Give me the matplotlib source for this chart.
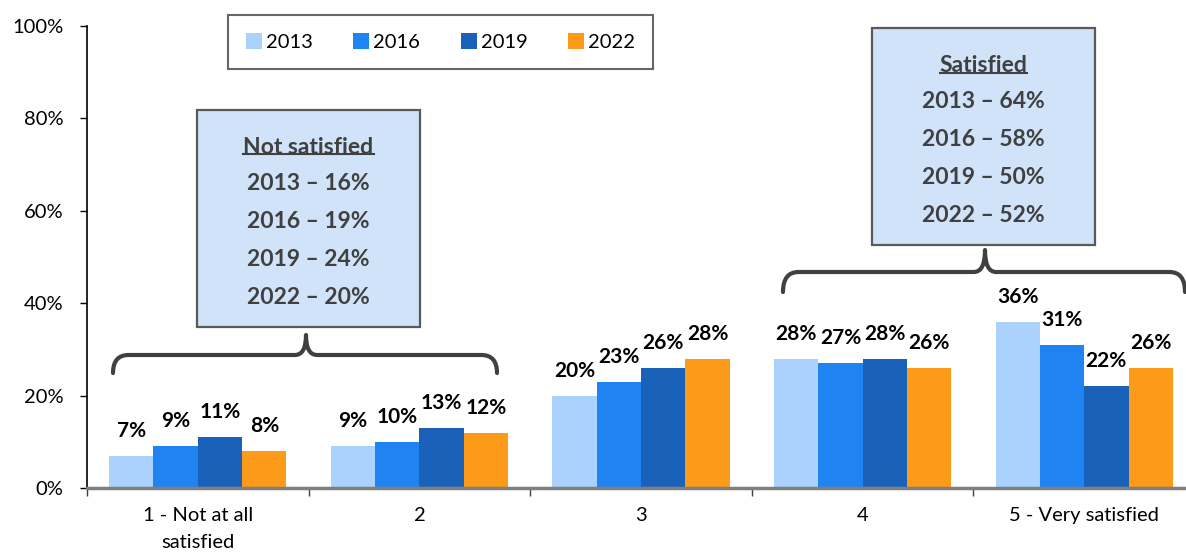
import matplotlib.pyplot as plt
import numpy as np
from matplotlib.patches import Rectangle, PathPatch
from matplotlib.path import Path
from matplotlib.lines import Line2D

plt.rcParams['font.family'] = ['Lato', 'DejaVu Sans']

# data
categories = ['1 - Not at all\nsatisfied', '2', '3', '4', '5 - Very satisfied']
years = ['2013', '2016', '2019', '2022']
v2013 = [7, 9, 20, 28, 36]
v2016 = [9, 10, 23, 27, 31]
v2019 = [11, 13, 26, 28, 22]
v2022 = [8, 12, 28, 26, 26]
not_satisfied = [16, 19, 24, 20]
satisfied = [64, 58, 50, 52]

series = [v2013, v2016, v2019, v2022]
colors = ['#AAD2FC', '#1F83F2', '#1A61B9', '#FE9A19']

fig = plt.figure(figsize=(11.86, 5.56), dpi=100)
ax = fig.add_axes([87 / 1186, 68 / 556, 1108 / 1186, 462 / 556])

x = np.arange(len(categories))
width = 0.2
for i, (vals, col, yr) in enumerate(zip(series, colors, years)):
    pos = x + (i - 1.5) * width
    ax.bar(pos, vals, width, color=col, label=yr)
    for xp, v in zip(pos, vals):
        ax.annotate(f'{v}%', (xp, v), xytext=(0, 18), textcoords='offset points',
                    ha='center', va='center', fontsize=15, fontweight='bold',
                    color='black')

ax.set_xlim(-0.5, 4.5)
ax.set_ylim(0, 100)
ax.set_yticks(range(0, 101, 20))
ax.set_yticklabels([f'{t}%' for t in range(0, 101, 20)], fontsize=14.5)
ax.tick_params(axis='y', length=5, width=1, pad=12, colors='black')

ax.set_xticks(np.arange(-0.5, 5, 1))
ax.set_xticklabels([])
ax.set_xticks(x, minor=True)
ax.set_xticklabels(categories, minor=True, fontsize=14.5, linespacing=1.7, va='top')
ax.tick_params(axis='x', which='major', length=6, width=1, color='#404040')
ax.tick_params(axis='x', which='minor', length=0, pad=14)

ax.spines['top'].set_visible(False)
ax.spines['right'].set_visible(False)
ax.spines['left'].set_linewidth(1.2)
ax.spines['bottom'].set_color('#7F7F7F')
ax.spines['bottom'].set_linewidth(2.5)

leg = fig.legend(loc='center', bbox_to_anchor=(440.5 / 1186, 1 - 42 / 556), ncol=4,
                 fontsize=14.5, frameon=True, fancybox=False, handlelength=0.8,
                 handleheight=0.8, handletextpad=0.2, columnspacing=2.0,
                 borderpad=0.9)
leg.get_frame().set_edgecolor('#404040')
leg.get_frame().set_linewidth(1.5)


def brace(x0, x1, xm, ylow, ytop, ypeak, rx, rm):
    verts = [(x0, ylow), (x0, ytop), (x0 + rx, ytop),
             (xm - rm, ytop), (xm, ytop), (xm, ypeak),
             (xm, ytop), (xm + rm, ytop),
             (x1 - rx, ytop), (x1, ytop), (x1, ylow)]
    codes = [Path.MOVETO, Path.CURVE3, Path.CURVE3,
             Path.LINETO, Path.CURVE3, Path.CURVE3,
             Path.CURVE3, Path.CURVE3,
             Path.LINETO, Path.CURVE3, Path.CURVE3]
    ax.add_patch(PathPatch(Path(verts, codes), fill=False, edgecolor='#404040',
                           lw=3, clip_on=False, capstyle='round', joinstyle='round'))


def summary_box(x0, x1, ytop, ybot, title, vals, ycenters):
    ax.add_patch(Rectangle((x0, ybot), x1 - x0, ytop - ybot, facecolor='#D1E3F9',
                           edgecolor='#595959', lw=1.6, clip_on=False, zorder=3))
    xc = (x0 + x1) / 2
    t = ax.text(xc, ycenters[0], title, ha='center', va='center', fontsize=16.5,
                fontweight='bold', color='#404040', zorder=4)
    for yr, v, yc in zip(years, vals, ycenters[1:]):
        ax.text(xc, yc, f'{yr} \u2013 {v}%', ha='center', va='center', fontsize=16.5,
                fontweight='bold', color='#404040', zorder=4)
    return t


def ypx(py):
    return (488 - py) / 462 * 100


def xpx(px):
    return (px - 87) / 221.6 - 0.5


t1 = summary_box(xpx(197), xpx(420), ypx(110), ypx(327), 'Not satisfied', not_satisfied,
                 [ypx(p) for p in (147, 184, 222, 260, 298)])
t2 = summary_box(xpx(872), xpx(1095), ypx(28), ypx(245), 'Satisfied', satisfied,
                 [ypx(p) for p in (65, 102, 140, 178, 216)])

brace(xpx(113), xpx(497), xpx(306), ypx(373), ypx(355), ypx(335), 0.07, 0.05)
brace(xpx(783), xpx(1185), xpx(985), ypx(292), ypx(272), ypx(250), 0.07, 0.05)

# underline the box titles
fig.canvas.draw()
r = fig.canvas.get_renderer()
inv = fig.transFigure.inverted()
for t in (t1, t2):
    bb = t.get_window_extent(renderer=r)
    (fx0, fy0), (fx1, fy1) = inv.transform([(bb.x0, bb.y0 + 3), (bb.x1, bb.y0 + 3)])
    fig.add_artist(Line2D([fx0, fx1], [fy0, fy1], color='#404040', lw=1.5, zorder=5))

fig.savefig('out.png', dpi=100)
